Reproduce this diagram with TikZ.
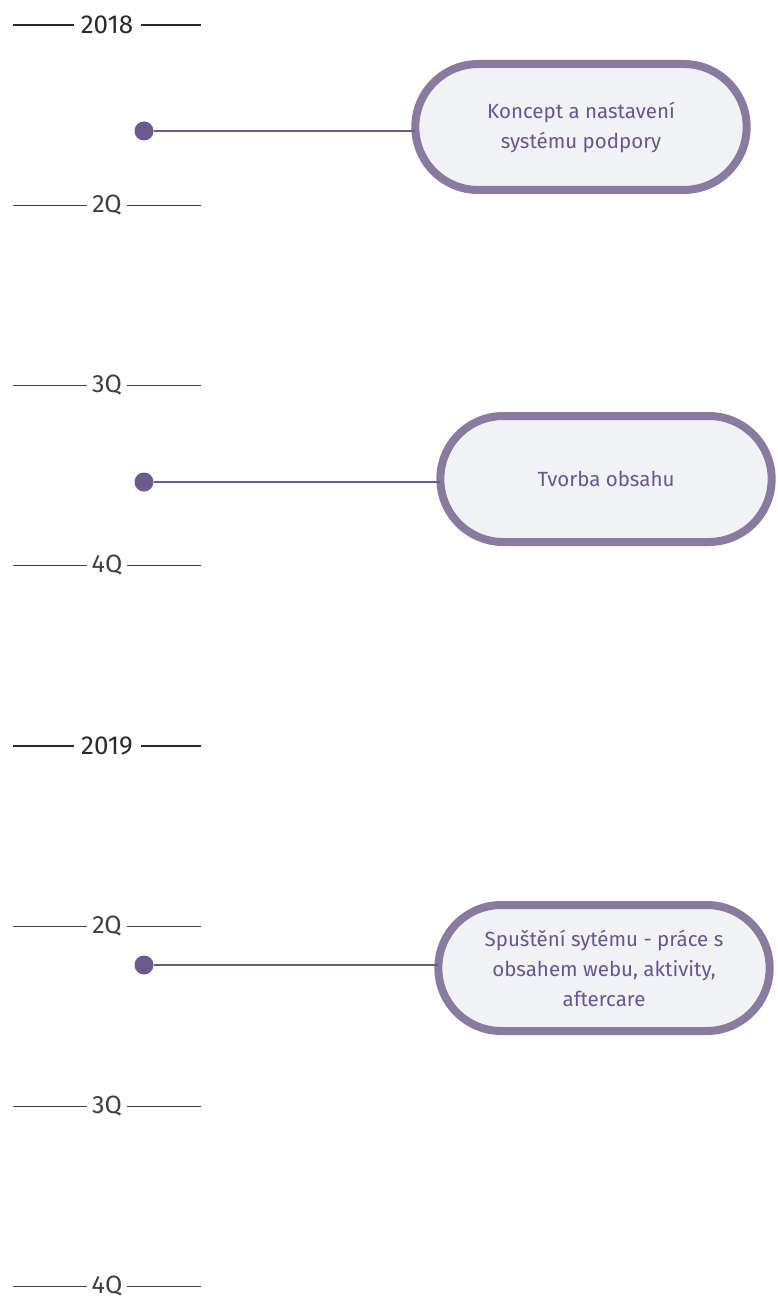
\documentclass[tikz,border=0pt]{standalone}
\usepackage{fontspec}
\setmainfont{Fira Sans}
\usetikzlibrary{shapes.misc,positioning}

\definecolor{tlpurple}{HTML}{6C5A8E}
\definecolor{boxedge}{HTML}{8A7AA0}
\definecolor{boxfill}{HTML}{F1F2F4}
\definecolor{boxtext}{HTML}{6A5590}
\definecolor{ticktext}{HTML}{2A2A2A}

\tikzset{
    yearlabel/.style={font=\fontsize{26}{26}\selectfont, text=ticktext, inner sep=0pt},
    quarterlabel/.style={font=\fontsize{25}{25}\selectfont, text=ticktext!90, inner sep=0pt},
    yearline/.style={draw=ticktext, line width=2.8pt},
    quarterline/.style={draw=ticktext!90, line width=0.9pt},
    milestone/.style={rounded rectangle, draw=boxedge, line width=8pt, fill=boxfill,
        minimum width=338pt, minimum height=126pt, align=center, text=boxtext,
        font=\fontsize{20.5}{30}\selectfont, outer sep=0pt},
    dot/.style={circle, fill=tlpurple, minimum size=19pt, inner sep=0pt},
    link/.style={draw=tlpurple, line width=2pt},
}

\begin{document}
\begin{tikzpicture}[x=1pt, y=-1pt]
        \useasboundingbox (0,0) rectangle (777,1297);

        % years
        \foreach \yr/\y in {2018/25, 2019/746} {
            \node[yearlabel] (y\yr) at (107,\y) {\yr};
            \coordinate (yl\yr) at (13,\y);
            \coordinate (yr\yr) at (201,\y);
            \draw[yearline] (yl\yr) -- ([xshift=-7pt]y\yr.west);
            \draw[yearline] ([xshift=8pt]y\yr.east) -- (yr\yr);
        }

        % quarters
        \foreach \q/\nm/\y in {2Q/a2/205, 3Q/a3/385, 4Q/a4/565, 2Q/b2/926, 3Q/b3/1106, 4Q/b4/1286} {
            \node[quarterlabel] (q\nm) at (107,\y) {\q};
            \coordinate (ql\nm) at (13,\y);
            \coordinate (qr\nm) at (201,\y);
            \draw[quarterline] (ql\nm) -- ([xshift=-5pt]q\nm.west);
            \draw[quarterline] ([xshift=5pt]q\nm.east) -- (qr\nm);
        }

        % milestones
        \node[milestone] (concept) at (581,127) {Koncept a nastavení\\systému podpory};
        \node[milestone] (content) at (606,479) {Tvorba obsahu};
        \node[milestone] (launch) at (604,968) {Spuštění sytému - práce s\\obsahem webu, aktivity,\\aftercare};

        \node[dot] (d1) at (144,131) {};
        \node[dot] (d2) at (144,482) {};
        \node[dot] (d3) at (144,965) {};

        \draw[link] (d1) -- (d1 -| concept.west);
        \draw[link] (d2) -- (d2 -| content.west);
        \draw[link] (d3) -- (d3 -| launch.west);
\end{tikzpicture}
\end{document}
